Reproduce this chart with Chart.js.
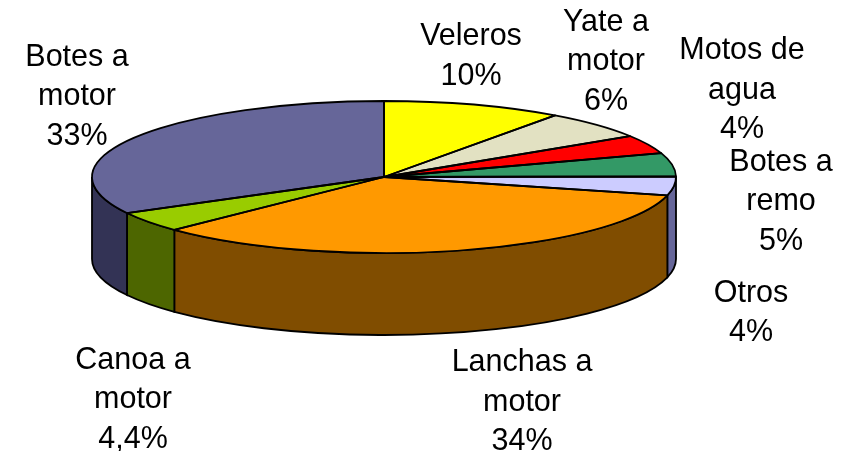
<!DOCTYPE html>
<html><head><meta charset="utf-8">
<style>html,body{margin:0;padding:0;background:#fff}#w{width:848px;height:451px}</style>
<script src="https://cdn.jsdelivr.net/npm/chart.js@4/dist/chart.umd.min.js"></script>
</head><body><div id="w"><canvas id="c" width="848" height="451"></canvas></div>
<script>
const categories = ['Veleros','Yate a motor','Motos de agua','Botes a remo','Otros','Lanchas a motor','Canoa a motor','Botes a motor'];
const values = [10,6,4,5,4,34,4.4,33];
const topColors = ['#ffff00','#e2e1c2','#ff0000','#339966','#ccccff','#ff9900','#99cc00','#666699'];
const sideColors = ['#808000','#71705f','#800000','#1a4d33','#666699','#804d00','#4d6600','#333355'];
const labelLines = [['Veleros','10%'],['Yate a','motor','6%'],['Motos de','agua','4%'],['Botes a','remo','5%'],['Otros','4%'],['Lanchas a','motor','34%'],['Canoa a','motor','4,4%'],['Botes a','motor','33%']];
const labelAnchors = [[471,37],[606,22.5],[742,51],[781,162.5],[751,293.5],[522,363],[133,360.5],[77,57.5]];
const G = {cx:384, cy:177, rx:292, ry:76, depth:82, fontPx:30.5, lineH:39.5, stroke:1.8};

const pie3d = {
  id:'pie3d',
  beforeDatasetsDraw(chart){
    const ctx = chart.ctx, arcs = chart.getDatasetMeta(0).data;
    ctx.save();
    ctx.lineWidth = G.stroke; ctx.strokeStyle = '#000';
    arcs.forEach((a,i)=>{
      const s = Math.max(a.startAngle,0), e = Math.min(a.endAngle,Math.PI);
      if(e<=s) return;
      ctx.beginPath();
      ctx.ellipse(G.cx,G.cy,G.rx,G.ry,0,s,e);
      ctx.ellipse(G.cx,G.cy+G.depth,G.rx,G.ry,0,e,s,true);
      ctx.closePath();
      ctx.fillStyle = sideColors[i]; ctx.fill(); ctx.stroke();
    });
    ctx.restore();
    ctx.save();
    const a0 = arcs[0], r = a0.outerRadius;
    ctx.translate(G.cx,G.cy);
    ctx.scale(G.rx/r,G.ry/r);
    ctx.translate(-a0.x,-a0.y);
  },
  afterDatasetsDraw(chart){
    const ctx = chart.ctx, arcs = chart.getDatasetMeta(0).data;
    ctx.restore();
    ctx.save();
    ctx.lineWidth = G.stroke; ctx.strokeStyle = '#000'; ctx.lineJoin = 'round';
    arcs.forEach(a=>{
      ctx.beginPath();
      ctx.moveTo(G.cx,G.cy);
      ctx.ellipse(G.cx,G.cy,G.rx,G.ry,0,a.startAngle,a.endAngle);
      ctx.closePath();
      ctx.stroke();
    });
    ctx.fillStyle = '#000';
    ctx.font = G.fontPx+'px "Liberation Sans", Arial, sans-serif';
    ctx.textAlign = 'center'; ctx.textBaseline = 'middle';
    labelLines.forEach((lines,i)=>{
      lines.forEach((t,j)=>ctx.fillText(t,labelAnchors[i][0],labelAnchors[i][1]+G.lineH*j));
    });
    ctx.restore();
  }
};

new Chart(document.getElementById('c'),{
  type:'pie',
  data:{labels:categories,datasets:[{data:values,backgroundColor:topColors,borderWidth:0}]},
  options:{responsive:false,animation:false,devicePixelRatio:1,
    plugins:{legend:{display:false},tooltip:{enabled:false}}},
  plugins:[pie3d]
});
</script></body></html>
